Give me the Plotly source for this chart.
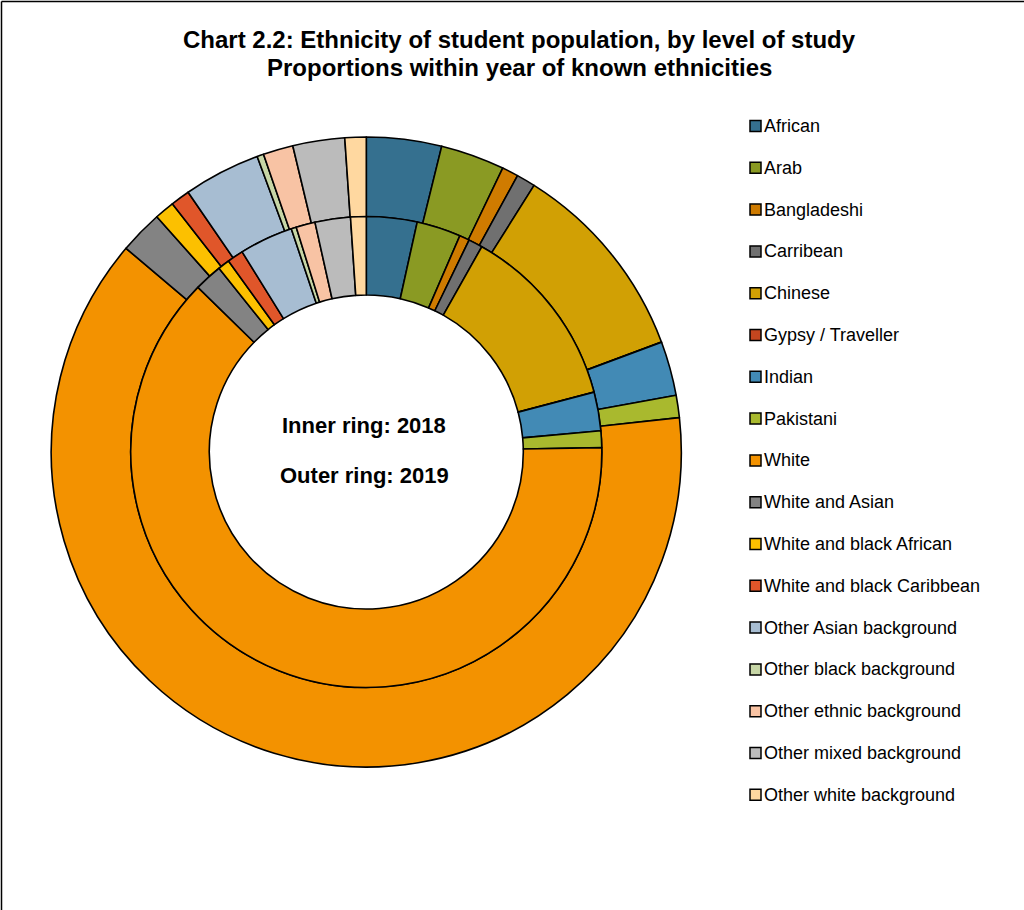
import plotly.graph_objects as go

# ---------------- data ----------------
categories = [
    "African", "Arab", "Bangladeshi", "Carribean", "Chinese",
    "Gypsy / Traveller", "Indian", "Pakistani", "White", "White and Asian",
    "White and black African", "White and black Caribbean",
    "Other Asian background", "Other black background",
    "Other ethnic background", "Other mixed background",
    "Other white background",
]
share_2018 = [3.47, 3.03, 0.69, 0.97, 12.75, 0.02, 2.64, 1.14, 62.64, 1.92,
              0.81, 1.11, 3.68, 0.35, 1.31, 2.43, 1.07]
share_2019 = [3.85, 3.28, 0.84, 0.97, 10.38, 0.02, 2.78, 1.14, 62.94, 2.23,
              1.02, 0.99, 3.94, 0.34, 1.54, 2.66, 1.09]
colors = [
    "#35708F", "#8A9A23", "#CF7B00", "#707070", "#D1A004",
    "#C4461F", "#428AB5", "#A9B92E", "#F39200", "#838383",
    "#FCC000", "#E0562A", "#A7BDD2", "#C7D6A6", "#F8C3A4",
    "#BBBBBB", "#FFD8A0",
]
title_lines = ["Chart 2.2: Ethnicity of student population, by level of study",
               "Proportions within year of known ethnicities"]
center_lines = ["Inner ring: 2018", "Outer ring: 2019"]

# ---------------- layout helpers ----------------
W, H = 1024, 910
FONT = "Liberation Sans, Arial, sans-serif"


def px_x(x):
    return x / W


def px_y(y):
    return 1 - y / H


cx, cy = 366.3, 452.0
r_out, r_mid, r_hole = 315.0, 235.5, 157.0


def domain(r):
    return dict(x=[px_x(cx - r), px_x(cx + r)], y=[px_y(cy + r), px_y(cy - r)])


fig = go.Figure()
fig.add_trace(go.Pie(
    labels=categories, values=share_2019, name="2019",
    domain=domain(r_out), hole=r_mid / r_out,
    sort=False, direction="clockwise", rotation=0,
    marker=dict(colors=colors, line=dict(color="black", width=1.6)),
    textinfo="none", showlegend=False,
))
fig.add_trace(go.Pie(
    labels=categories, values=share_2018, name="2018",
    domain=domain(r_mid), hole=r_hole / r_mid,
    sort=False, direction="clockwise", rotation=0,
    marker=dict(colors=colors, line=dict(color="black", width=1.6)),
    textinfo="none", showlegend=False,
))

annotations = []
shapes = []

# title
for i, t in enumerate(title_lines):
    annotations.append(dict(
        text="<b>%s</b>" % t, x=px_x(519), y=px_y(40 + i * 28),
        xref="paper", yref="paper", xanchor="center", yanchor="middle",
        showarrow=False, font=dict(family=FONT, size=24, color="black"),
    ))

# centre labels
for i, t in enumerate(center_lines):
    annotations.append(dict(
        text="<b>%s</b>" % t, x=px_x(364), y=px_y(425 + i * 50),
        xref="paper", yref="paper", xanchor="center", yanchor="middle",
        showarrow=False, font=dict(family=FONT, size=22, color="black"),
    ))

# legend (manual, to match spacing)
for i, (name, col) in enumerate(zip(categories, colors)):
    yc = 126 + i * 41.8
    shapes.append(dict(
        type="rect", xref="paper", yref="paper",
        x0=px_x(750), x1=px_x(761), y0=px_y(yc + 5.5), y1=px_y(yc - 5.5),
        fillcolor=col, line=dict(color="black", width=1.5),
    ))
    annotations.append(dict(
        text=name, x=px_x(762), y=px_y(yc),
        xref="paper", yref="paper", xanchor="left", yanchor="middle",
        showarrow=False, font=dict(family=FONT, size=18, color="black"),
    ))

# frame (top and left edges visible)
shapes.append(dict(type="line", xref="paper", yref="paper",
                   x0=px_x(1.5), x1=1, y0=px_y(1.5), y1=px_y(1.5),
                   line=dict(color="black", width=1.5)))
shapes.append(dict(type="line", xref="paper", yref="paper",
                   x0=px_x(1.5), x1=px_x(1.5), y0=0, y1=px_y(1.5),
                   line=dict(color="black", width=1.5)))

fig.update_layout(
    width=W, height=H,
    margin=dict(l=0, r=0, t=0, b=0),
    paper_bgcolor="white", plot_bgcolor="white",
    annotations=annotations, shapes=shapes,
    font=dict(family=FONT),
    showlegend=False,
)

fig.write_html(
    "out.html",
    config={"displayModeBar": False},
    post_script="document.body.style.margin='0px';document.body.style.padding='0px';",
)
